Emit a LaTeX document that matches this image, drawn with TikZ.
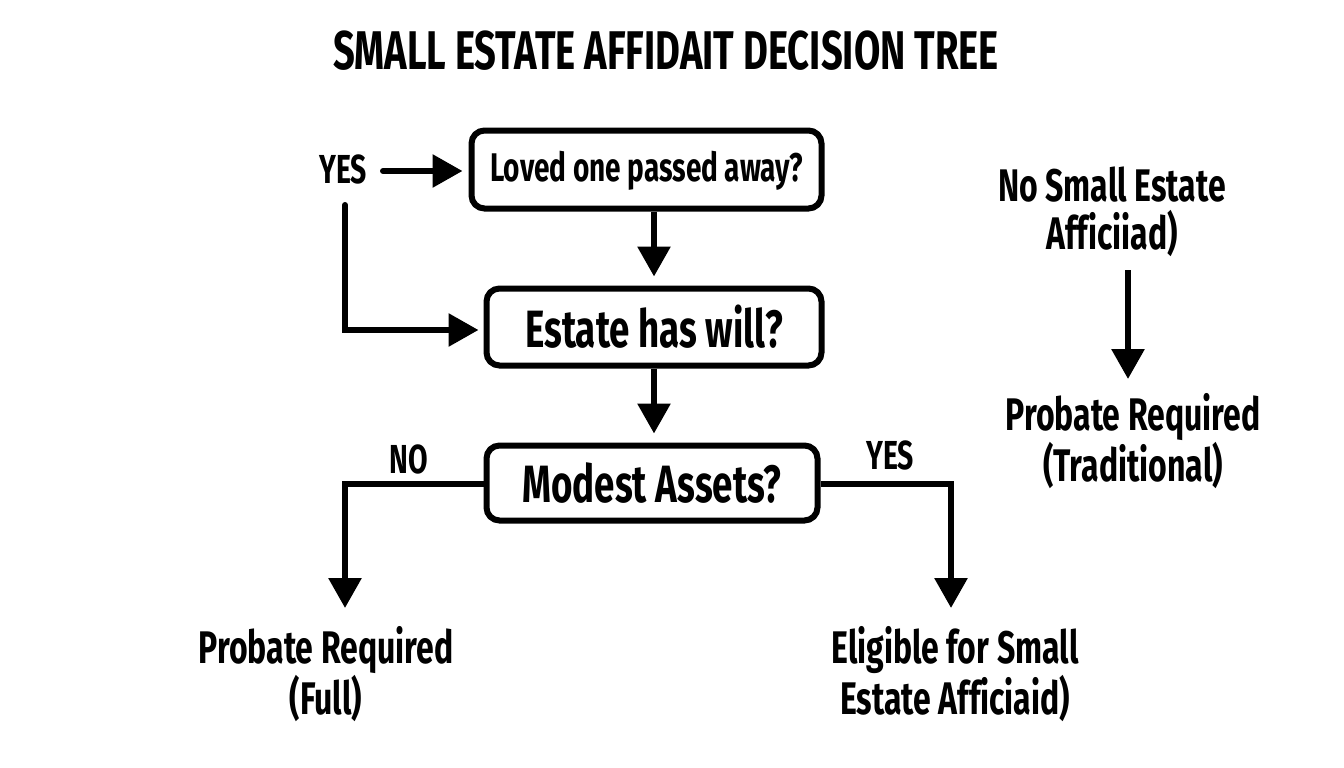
\documentclass[tikz,border=0pt]{standalone}
\usepackage{fontspec}
\setmainfont[FakeStretch=0.70,Ligatures={NoCommon}]{Fira Sans Bold}
\usetikzlibrary{arrows.meta,positioning}

\tikzset{
  decision/.style={draw,line width=6pt,rounded corners=13pt,align=center,inner sep=0pt},
  answer/.style={align=center,font=\fontsize{45.7}{48}\selectfont,inner sep=0pt},
  tag/.style={font=\fontsize{40.5}{42}\selectfont,inner sep=0pt},
  link/.style={line width=6pt,-{Triangle[length=30pt,width=32pt]}},
}

\begin{document}
\begin{tikzpicture}[x=1pt,y=-1pt]
\useasboundingbox (0,0) rectangle (1344,768);
\node[inner sep=0pt,font=\fontsize{54.5}{55}\selectfont] (title) at (666,51) {SMALL ESTATE AFFIDAIT DECISION TREE};

\node[decision,minimum width=350pt,minimum height=78pt,text height=24pt,text depth=0pt,font=\fontsize{40}{42}\selectfont] (passed) at (646.5,169.5) {Loved one passed away?};
\node[decision,minimum width=335pt,minimum height=77pt,font=\fontsize{52.5}{53}\selectfont] (will) at (654,327) {Estate has will?};
\node[decision,minimum width=331pt,minimum height=75pt,font=\fontsize{52.5}{53}\selectfont] (assets) at (652,483) {Modest Assets?};

\node[tag] (yesa) at (343,169) {YES};
\node[tag] (no) at (409,459) {NO};
\node[tag] (yesb) at (890,455) {YES};

\node[answer] (full) at (326,674) {Probate Required\\(Full)};
\node[answer] (eligible) at (955,674) {Eligible for Small\\Estate Afficiaid)};
\node[answer] (nosmall) at (1112,212) {No Small Estate\\Afficiiad)};
\node[answer] (trad) at (1133,441) {Probate Required\\(Traditional)};

\coordinate (yesastart) at (383,171);
\coordinate (yesbend) at (345,205);
\coordinate (fullend) at (345,608);
\coordinate (eligibleend) at (951,608);
\coordinate (nosmallstart) at (1128,270);
\coordinate (tradend) at (1128,379);

\draw[link,line cap=round,shorten >=6pt] (yesastart) -- (yesastart -| passed.west);
\draw[link,line cap=round,shorten >=5pt] (yesbend) |- ([yshift=-3pt]will.west);
\draw[link,shorten >=9pt] (passed.south -| will.north) -- (will.north);
\draw[link,shorten >=9pt] (will.south) -- (will.south |- assets.north);
\draw[link] ([yshift=-1pt]assets.west) -| (fullend);
\draw[link] ([yshift=-1pt]assets.east) -| (eligibleend);
\draw[link] (nosmallstart) -- (tradend);
\end{tikzpicture}
\end{document}
